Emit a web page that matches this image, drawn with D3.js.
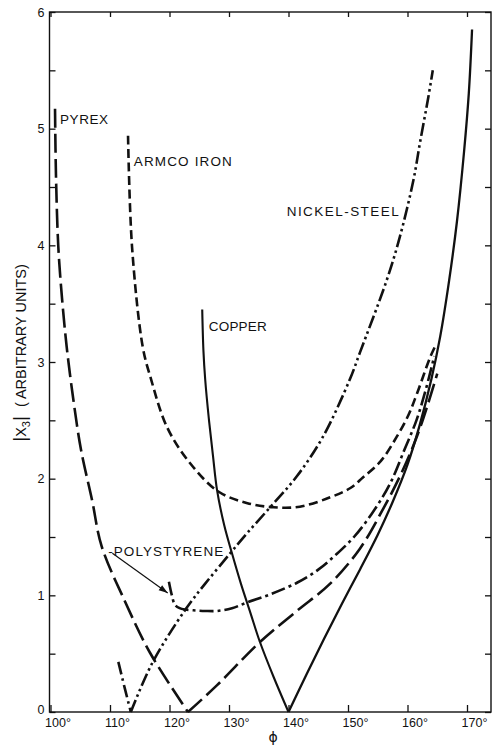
<!DOCTYPE html>
<html><head><meta charset="utf-8">
<script src="https://cdn.jsdelivr.net/npm/d3@7/dist/d3.min.js"></script>
<style>
html,body{margin:0;padding:0;background:#fff;}
svg{display:block;}
text{font-family:"Liberation Sans",Arial,sans-serif;fill:#111;}
</style></head>
<body><svg id="c" width="494" height="749"></svg>
<script>
// ---- data (phi in degrees, |X3| arbitrary units) ----
const xTicks = [100,110,120,130,140,150,160,170];
const xTickLabels = ["100°","110°","120°","130°","140°","150°","160°","170°"];
const yTicks = [0,1,2,3,4,5,6];
const yMinorTicks = [0,0.5,1,1.5,2,2.5,3,3.5,4,4.5,5,5.5,6];

const pyrexLeftPhi = [100.76,100.92,101.31,101.93,102.72,103.78,105.12,106.97,108.6,112.5,116.7,123.1];
const pyrexLeftVal = [5.17,4.6,3.99,3.55,3.13,2.7,2.25,1.82,1.42,0.95,0.51,0];
const pyrexRightPhi = [123.1,128,135.2,141.5,147,152,156,159,161.5,163.5,165];
const pyrexRightVal = [0,0.23,0.6,0.87,1.1,1.4,1.75,2.05,2.35,2.65,2.9];

const armcoPhi = [113.03,113.7,115.5,116.8,119.6,123.5,128.2,133.1,137.5,141.9,147,150.4,152.5,155.5,158.2,160.2,161.6,163.8,164.6];
const armcoVal = [4.94,3.99,3.13,2.87,2.44,2.13,1.89,1.79,1.755,1.76,1.84,1.92,2.01,2.15,2.36,2.55,2.73,3.04,3.13];

const copperLeftPhi = [125.5,125.7,126.0,126.6,127.3,128.0,129.2,130.5,132,133.6,135.2,137.5,140];
const copperLeftVal = [3.45,3.1,2.85,2.52,2.2,1.9,1.6,1.36,1.1,0.85,0.6,0.3,0];
const copperRightPhi = [140,143,146,149,152,155,157.5,160,162,164,165.5,167,168.3,169.5,170.3,170.85];
const copperRightVal = [0,0.32,0.63,0.93,1.22,1.52,1.8,2.12,2.45,2.85,3.22,3.7,4.2,4.8,5.3,5.85];

const nickelLeftPhi = [111.4,112.5,113.5];
const nickelLeftVal = [0.43,0.2,0];
const nickelRightPhi = [113.5,117.1,122.7,126,130.2,133,137,141.4,145.8,150.3,152,156.5,158.7,161,162.1,163.5,164.25];
const nickelRightVal = [0,0.42,0.88,1.1,1.36,1.53,1.76,2.02,2.36,2.85,3.08,3.7,4.07,4.56,4.88,5.27,5.5];

const polyPhi = [119.9,120.4,120.9,121.7,122.6,124,126,128,130.5,133.1,137,141.5,145,148,151,154,157,159.5,161.5,163,164.5];
const polyVal = [1.117,1.0,0.92,0.89,0.878,0.872,0.866,0.866,0.89,0.94,1.01,1.11,1.22,1.35,1.5,1.7,1.95,2.25,2.5,2.75,3.05];

const labels = [
  {t:"PYREX", phi:101.6, v:5.04, w:48},
  {t:"ARMCO IRON", phi:114.0, v:4.68, w:98},
  {t:"NICKEL-STEEL", phi:139.7, v:4.25, w:112},
  {t:"COPPER", phi:126.6, v:3.27, w:58},
  {t:"-POLYSTYRENE", phi:109.7, v:1.34, w:115}
];

// ---- scales ----
const svg = d3.select("#c");
const x = d3.scaleLinear().domain([100,170]).range([50.5,467]);
const y = d3.scaleLinear().domain([0,6]).range([712,12]);
const X0 = 49.5, X1 = 491, Y0 = 712, Y1 = 12;
const ink = "#111";

// frame + ticks
const gB = svg.append("g").attr("transform",`translate(0,${Y0})`)
  .call(d3.axisBottom(x).tickValues(xTicks).tickSize(-7).tickSizeOuter(0).tickPadding(6)
    .tickFormat((d,i)=>xTickLabels[i]));
const gT = svg.append("g").attr("transform",`translate(0,${Y1})`)
  .call(d3.axisTop(x).tickValues(xTicks).tickSize(-5).tickSizeOuter(0).tickFormat(""));
const gL = svg.append("g").attr("transform",`translate(${X0},0)`)
  .call(d3.axisLeft(y).tickValues(yMinorTicks).tickSize(-6).tickSizeOuter(0).tickPadding(5)
    .tickFormat(d=> Number.isInteger(d)? String(d) : ""));
const gR = svg.append("g").attr("transform",`translate(${X1},0)`)
  .call(d3.axisRight(y).tickValues(yMinorTicks).tickSize(-6).tickSizeOuter(0).tickFormat(""));
[gB,gT,gL,gR].forEach(g=>{
  g.select(".domain").remove();
  g.selectAll(".tick line").attr("stroke",ink).attr("stroke-width",1.3);
  g.selectAll("text").attr("font-size",12.5).attr("fill",ink)
   .style("font-family",'"Liberation Sans",Arial,sans-serif');
});
gB.selectAll("text").attr("dx",7);
gL.selectAll("text").attr("font-size",12.5);
gL.selectAll(".tick").filter(d=>d===0).select("text").attr("dy","0.1em");
svg.append("rect").attr("x",X0).attr("y",Y1).attr("width",X1-X0).attr("height",Y0-Y1)
  .attr("fill","none").attr("stroke",ink).attr("stroke-width",1.4);

// ---- curves ----
const line = d3.line().x(d=>x(d[0])).y(d=>y(d[1])).curve(d3.curveCatmullRom.alpha(0.5));
const zip = (a,b)=>a.map((p,i)=>[p,b[i]]);
function draw(ph, vals, dash, w){
  svg.append("path").datum(zip(ph,vals)).attr("d",line)
    .attr("fill","none").attr("stroke",ink).attr("stroke-width",w)
    .attr("stroke-dasharray",dash).attr("stroke-linejoin","round");
}
draw(pyrexLeftPhi,pyrexLeftVal,"19,6",2.6);
draw(pyrexRightPhi,pyrexRightVal,"19,6",2.6);
draw(armcoPhi,armcoVal,"9,4.5",2.6);
draw(copperLeftPhi,copperLeftVal,null,2.1);
draw(copperRightPhi,copperRightVal,null,2.3);
draw(nickelLeftPhi,nickelLeftVal,"13,4,2.5,4",2.6);
draw(nickelRightPhi,nickelRightVal,"13,3.5,2.5,3.5,2.5,3.5",2.6);
draw(polyPhi,polyVal,"14,4,3,4",2.6);

// ---- labels ----
labels.forEach(l=>{
  svg.append("text").attr("x",x(l.phi)).attr("y",y(l.v))
    .attr("font-size",13.5).attr("textLength",l.w).attr("lengthAdjust","spacing")
    .text(l.t);
});
// polystyrene arrow
const ax0 = [x(110.4), y(1.36)], ax1 = [x(119.7), y(1.02)];
svg.append("line").attr("x1",ax0[0]).attr("y1",ax0[1]).attr("x2",ax1[0]).attr("y2",ax1[1])
  .attr("stroke",ink).attr("stroke-width",1.2);
const ang = Math.atan2(ax1[1]-ax0[1], ax1[0]-ax0[0]);
const hl = 9, hw = 3;
const p1 = [ax1[0]-hl*Math.cos(ang)+hw*Math.sin(ang), ax1[1]-hl*Math.sin(ang)-hw*Math.cos(ang)];
const p2 = [ax1[0]-hl*Math.cos(ang)-hw*Math.sin(ang), ax1[1]-hl*Math.sin(ang)+hw*Math.cos(ang)];
svg.append("path").attr("d",`M${ax1[0]},${ax1[1]}L${p1[0]},${p1[1]}L${p2[0]},${p2[1]}Z`).attr("fill",ink);

// axis titles
const yt = svg.append("text").attr("transform","translate(26,353) rotate(-90)")
  .attr("text-anchor","middle").attr("font-size",14.5);
yt.append("tspan").attr("font-size",19).text("|");
yt.append("tspan").text("X");
yt.append("tspan").attr("font-size",11).attr("dy",4).text("3");
yt.append("tspan").attr("font-size",19).attr("dy",-4).text("|");
yt.append("tspan").attr("dx",9).text("( ARBITRARY UNITS)");
svg.append("text").attr("x",273).attr("y",742).attr("text-anchor","middle")
  .attr("font-size",14).style("font-family","DejaVu Sans").text("ϕ");
</script></body></html>
